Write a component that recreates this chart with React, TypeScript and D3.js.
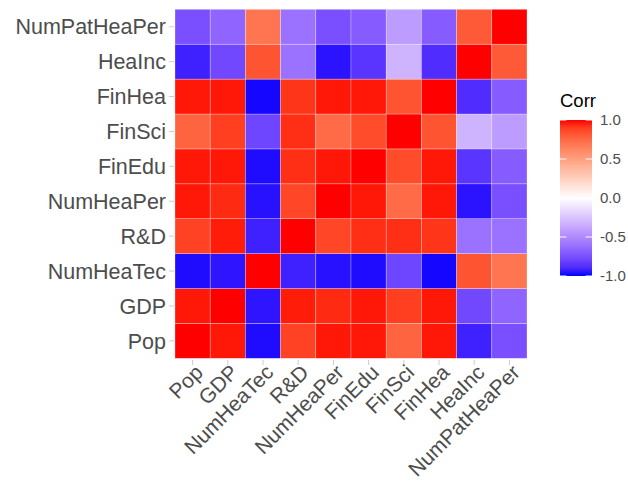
import React from 'react'
import * as d3 from 'd3'

// variables, in the order they appear along x (and bottom to top along y)
const variables = ['Pop', 'GDP', 'NumHeaTec', 'R&D', 'NumHeaPer', 'FinEdu', 'FinSci', 'FinHea', 'HeaInc', 'NumPatHeaPer']

// correlation rows, same order as variables
const rowPop = [1, 0.98, -0.98, 0.89, 0.98, 0.98, 0.77, 0.98, -0.93, -0.75]
const rowGDP = [0.98, 1, -0.96, 0.975, 0.95, 0.98, 0.9, 0.98, -0.78, -0.66]
const rowNumHeaTec = [-0.98, -0.96, 1, -0.93, -0.97, -0.98, -0.79, -0.99, 0.83, 0.7]
const rowRD = [0.89, 0.975, -0.93, 1, 0.875, 0.94, 0.94, 0.925, -0.6, -0.6]
const rowNumHeaPer = [0.98, 0.95, -0.97, 0.875, 1, 0.98, 0.74, 0.98, -0.965, -0.75]
const rowFinEdu = [0.98, 0.98, -0.98, 0.94, 0.98, 1, 0.86, 0.98, -0.86, -0.7]
const rowFinSci = [0.77, 0.9, -0.79, 0.94, 0.74, 0.86, 1, 0.83, -0.32, -0.42]
const rowFinHea = [0.98, 0.98, -0.99, 0.925, 0.98, 0.98, 0.83, 1, -0.89, -0.7]
const rowHeaInc = [-0.93, -0.78, 0.83, -0.6, -0.965, -0.86, -0.32, -0.89, 1, 0.81]
const rowNumPatHeaPer = [-0.75, -0.66, 0.7, -0.6, -0.75, -0.7, -0.42, -0.7, 0.81, 1]

const corrRows = [rowPop, rowGDP, rowNumHeaTec, rowRD, rowNumHeaPer, rowFinEdu, rowFinSci, rowFinHea, rowHeaInc, rowNumPatHeaPer]

const legendBreaks = [1.0, 0.5, 0.0, -0.5, -1.0]

export default function App() {
  const width = 628,
    height = 489

  const x = d3.scaleBand<string>()
    .domain(variables)
    .range([175, 527])

  const y = d3.scaleBand<string>()
    .domain(variables)
    .range([358.3, 9.3])

  const fill = d3.scaleLinear<string>()
    .domain([-1, 0, 1])
    .range(['blue', 'white', 'red'])
    .interpolate(d3.interpolateLab)

  const cells: {vx: string, vy: string, v: number}[] = []
  corrRows.forEach((row, i) => {
    row.forEach((v, j) => {
      cells.push({vx: variables[j], vy: variables[i], v})
    })
  })

  // legend
  const barX = 560,
    barW = 32
  const legY = d3.scaleLinear()
    .domain([1, -1])
    .range([120, 276])
  const stops = d3.range(0, 21).map(k => -1 + k * 0.1)

  const textColor = '#4d4d4d'
  const font = 'Liberation Sans, Arial, Helvetica, sans-serif'

  return (
    <svg width={width} height={height} style={{position: 'absolute', left: 0, top: 0}} fontFamily={font}>
      <defs>
        <linearGradient id="corrGrad" x1="0" y1="1" x2="0" y2="0">
          {stops.map((s, k) => (
            <stop key={k} offset={(s + 1) / 2} stopColor={fill(s)} />
          ))}
        </linearGradient>
      </defs>
      <rect width={width} height={height} fill="white" />

      {cells.map((c, idx) => (
        <rect
          key={idx}
          x={x(c.vx)}
          y={y(c.vy)}
          width={x.bandwidth()}
          height={y.bandwidth()}
          fill={fill(c.v)}
          stroke="white"
          strokeOpacity={0.45}
          strokeWidth={0.6}
        />
      ))}

      {/* y axis */}
      {variables.map(v => {
        const cy = (y(v) as number) + y.bandwidth() / 2
        return (
          <g key={'y' + v}>
            <line x1={169} x2={174} y1={cy} y2={cy} stroke="#cccccc" strokeWidth={1} />
            <text x={166} y={cy} dy="0.36em" textAnchor="end" fontSize={21.5} fill={textColor}>{v}</text>
          </g>
        )
      })}

      {/* x axis */}
      {variables.map(v => {
        const cx = (x(v) as number) + x.bandwidth() / 2
        return (
          <g key={'x' + v}>
            <line x1={cx} x2={cx} y1={360} y2={365} stroke="#cccccc" strokeWidth={1} />
            <text
              transform={`translate(${cx + 1},${363}) rotate(-45)`}
              dy="0.72em"
              textAnchor="end"
              fontSize={21}
              fill={textColor}
            >{v}</text>
          </g>
        )
      })}

      {/* legend */}
      <text x={barX} y={107} fontSize={18.5} fill="black">Corr</text>
      <rect x={barX} y={legY(1)} width={barW} height={legY(-1) - legY(1)} fill="url(#corrGrad)" />
      {legendBreaks.map(b => (
        <g key={'l' + b}>
          <line x1={barX} x2={barX + barW / 5} y1={legY(b)} y2={legY(b)} stroke="white" strokeWidth={1} />
          <line x1={barX + barW - barW / 5} x2={barX + barW} y1={legY(b)} y2={legY(b)} stroke="white" strokeWidth={1} />
          <text x={600} y={legY(b)} dy="0.36em" fontSize={15} fill={textColor}>{b.toFixed(1)}</text>
        </g>
      ))}
    </svg>
  )
}
